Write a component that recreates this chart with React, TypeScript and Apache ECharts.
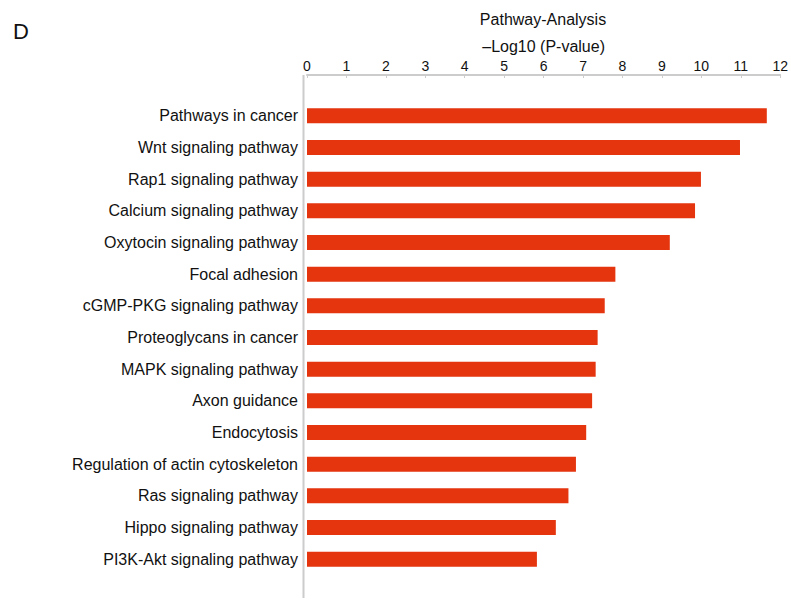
import React, { useEffect, useRef } from "react";
import * as echarts from "echarts";

const categories = [
  "Pathways in cancer",
  "Wnt signaling pathway",
  "Rap1 signaling pathway",
  "Calcium signaling pathway",
  "Oxytocin signaling pathway",
  "Focal adhesion",
  "cGMP-PKG signaling pathway",
  "Proteoglycans in cancer",
  "MAPK signaling pathway",
  "Axon guidance",
  "Endocytosis",
  "Regulation of actin cytoskeleton",
  "Ras signaling pathway",
  "Hippo signaling pathway",
  "PI3K-Akt signaling pathway",
];

const values = [11.66, 10.98, 9.99, 9.84, 9.2, 7.82, 7.55, 7.37, 7.32, 7.23, 7.08, 6.82, 6.63, 6.31, 5.83];

const xTicks = { min: 0, max: 12, interval: 1 };

const FONT = "'Liberation Sans', Arial, Helvetica, sans-serif";

export default function App() {
  const ref = useRef<HTMLDivElement>(null);
  useEffect(() => {
    document.body.style.margin = "0";
    if (!ref.current) return;
    const chart = echarts.init(ref.current, undefined, { renderer: "svg" });
    chart.setOption({
      animation: false,
      backgroundColor: "#ffffff",
      title: {
        text: "Pathway-Analysis",
        left: 538,
        top: 6,
        textAlign: "center",
        textStyle: { fontFamily: FONT, fontSize: 16, fontWeight: "normal", color: "#111" },
      },
      graphic: [
        {
          type: "text",
          left: 13,
          top: 20,
          style: { text: "D", fontFamily: FONT, fontSize: 22, fill: "#111" },
        },
        {
          type: "rect",
          shape: { x: 302.5, y: 75, width: 2, height: 523 },
          style: { fill: "#cccccc" },
        },
      ],
      grid: { left: 307, right: 9, top: 100, height: 475 },
      xAxis: {
        type: "value",
        position: "top",
        offset: 25,
        min: xTicks.min,
        max: xTicks.max,
        interval: xTicks.interval,
        name: "\u2013Log10 (P-value)",
        nameLocation: "middle",
        nameGap: 17,
        nameTextStyle: { fontFamily: FONT, fontSize: 16, color: "#111" },
        axisLine: { show: true, onZero: false, lineStyle: { color: "#cccccc", width: 2 } },
        axisTick: { show: true, inside: true, length: 3, lineStyle: { color: "#cccccc" } },
        axisLabel: { fontFamily: FONT, fontSize: 14, color: "#111", margin: 2 },
        splitLine: { show: false },
      },
      yAxis: {
        type: "category",
        data: categories,
        inverse: true,
        axisLine: { show: false },
        axisTick: { show: false },
        axisLabel: { fontFamily: FONT, fontSize: 16, color: "#111", margin: 9 },
      },
      series: [
        {
          type: "bar",
          data: values,
          barWidth: 15,
          itemStyle: { color: "#e4350f" },
        },
      ],
    });
    return () => chart.dispose();
  }, []);
  return <div ref={ref} style={{ width: 791, height: 600 }} />;
}
